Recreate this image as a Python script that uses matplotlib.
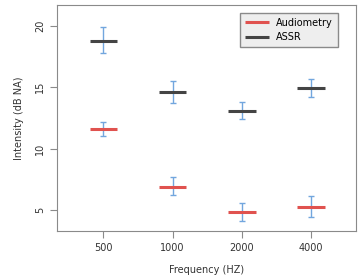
import matplotlib
matplotlib.use("Agg")
import matplotlib.pyplot as plt
import numpy as np

freqs = ["500", "1000", "2000", "4000"]
audiometry = [11.6, 6.9, 4.8, 5.25]
audiometry_hi = [12.2, 7.7, 5.6, 6.1]
audiometry_lo = [11.0, 6.2, 4.1, 4.4]
assr = [18.8, 14.6, 13.1, 14.9]
assr_hi = [19.9, 15.5, 13.8, 15.7]
assr_lo = [17.8, 13.7, 12.4, 14.2]

red = "#e0524f"
dark = "#444444"
blue = "#72a6de"
gray = "#8a8a8a"

fig = plt.figure(figsize=(3.61, 2.8), dpi=100)
ax = fig.add_axes([0.158, 0.175, 0.828, 0.807])
x = np.arange(1, len(freqs) + 1)

def draw(means, hi, lo, color, label):
    means = np.array(means)
    err = [means - np.array(lo), np.array(hi) - means]
    ax.errorbar(x, means, yerr=err, fmt="none", ecolor=blue, elinewidth=1,
                capsize=2.3, capthick=1, zorder=2)
    ax.hlines(means, x - 0.2, x + 0.2, colors=color, linewidth=2.2, zorder=3, label=label)

draw(audiometry, audiometry_hi, audiometry_lo, red, "Audiometry")
draw(assr, assr_hi, assr_lo, dark, "ASSR")

ax.set_xlim(0.33, 4.65)
ax.set_ylim(3.28, 21.7)
ax.set_xticks(x)
ax.set_xticklabels(freqs)
ax.set_yticks([5, 10, 15, 20])
ax.set_yticklabels(["5", "10", "15", "20"], rotation=90, va="center")
for s in ax.spines.values():
    s.set_color(gray)
ax.tick_params(colors=gray, labelcolor="#333333", labelsize=7, length=5, width=0.8)
ax.set_xlabel("Frequency (HZ)", fontsize=7, color="#333333", labelpad=9)
ax.set_ylabel("Intensity (dB NA)", fontsize=7, color="#333333", labelpad=8)

leg = ax.legend(loc="upper right", fontsize=7, frameon=True, fancybox=False,
                handlelength=2.4, borderpad=0.5, labelspacing=0.45,
                borderaxespad=0, bbox_to_anchor=(0.94, 0.965))
leg.get_frame().set_edgecolor(gray)
leg.get_frame().set_facecolor("#eeeeee")
leg.get_frame().set_alpha(1)

fig.savefig("out.png", dpi=100)
